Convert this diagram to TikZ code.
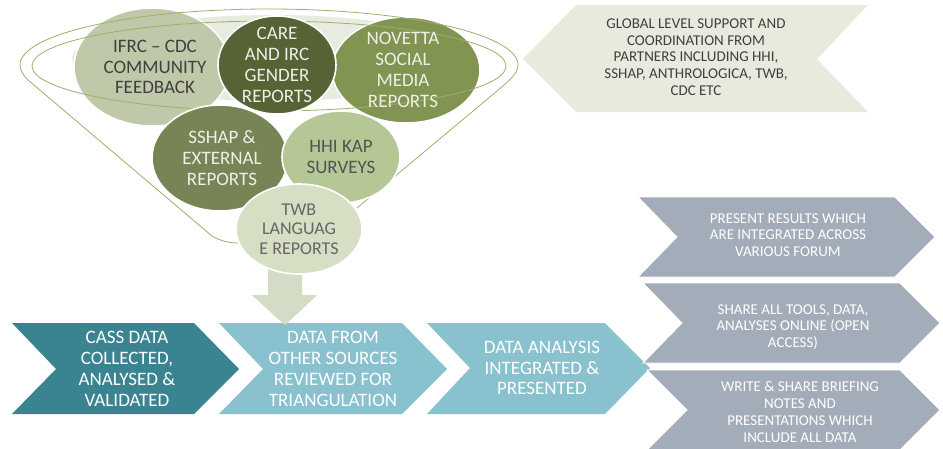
\documentclass[tikz,border=0pt]{standalone}
\usepackage{fontspec}
\setmainfont{Carlito}
\definecolor{lineg}{HTML}{9CB06A}
\definecolor{bandc}{HTML}{E8EBDF}
\definecolor{ifrcc}{HTML}{BFC8A9}
\definecolor{carec}{HTML}{566335}
\definecolor{novc}{HTML}{829451}
\definecolor{sshapc}{HTML}{778556}
\definecolor{hhic}{HTML}{B4C795}
\definecolor{twbc}{HTML}{D6DFC4}
\definecolor{arrowc}{HTML}{D5DCC5}
\definecolor{tealc}{HTML}{3A8390}
\definecolor{ltbluec}{HTML}{89C1CF}
\definecolor{grayc}{HTML}{A3ACB9}
\definecolor{beigec}{HTML}{EAE9DD}
\definecolor{darktxt}{HTML}{404040}
\definecolor{lighttxt}{HTML}{EEF0E8}
\begin{document}
\begin{tikzpicture}[x=1pt,y=-1pt,
  funnelline/.style={draw=lineg, line width=0.8pt},
  blob/.style={draw=white, line width=1.6pt},
  chev/.style={draw=white, line width=0.8pt},
  bigtxt/.style={align=center, font=\fontsize{19}{20.8}\selectfont, inner sep=0pt},
  midtxt/.style={align=center, font=\fontsize{18}{19.5}\selectfont, inner sep=0pt},
  smalltxt/.style={align=center, font=\fontsize{15}{16.8}\selectfont, inner sep=0pt}]
\useasboundingbox (0,0) rectangle (943,448);
\clip (0,0) rectangle (943,448);
\fill[white] (0,0) rectangle (943,448);

% funnel rim fill (light, mostly behind the circles)
\fill[bandc] (272,58) ellipse[x radius=200, y radius=43];

% first circles (lines show over them)
\fill[ifrcc, blob] (152,67) ellipse[x radius=78, y radius=59];
\fill[novc, blob] (406,70) ellipse[x radius=74, y radius=53];

% funnel outline and inner line on top
\draw[funnelline] (269,66) ellipse[x radius=237, y radius=45];
\draw[funnelline] (357,208) -- (503,86) .. controls (512,78) and (518,72) .. (518,65)
  arc[start angle=0, end angle=-180, x radius=249, y radius=56]
  .. controls (20,70) and (23,75) .. (28,80) -- (212,236) .. controls (220,241) and (230,243) .. (238,243);

\fill[carec, blob] (277,65) ellipse[x radius=59, y radius=49];
\fill[sshapc, blob] (220,158) ellipse[x radius=68, y radius=53];
\fill[hhic, blob] (341,157) ellipse[x radius=59, y radius=46];

% down arrow
\fill[arrowc] (268,265) -- (302,265) -- (302,295) -- (317,295) -- (285,325) -- (252,295) -- (268,295) -- cycle;

\fill[twbc, blob] (299,229) ellipse[x radius=63, y radius=45];

\node[bigtxt, text=darktxt] (ifrc) at (155,67) {IFRC -- CDC\\COMMUNITY\\FEEDBACK};
\node[bigtxt, text=lighttxt] (care) at (277,65) {CARE\\AND IRC\\GENDER\\REPORTS};
\node[bigtxt, text=lighttxt] (nov) at (403,70) {NOVETTA\\SOCIAL\\MEDIA\\REPORTS};
\node[bigtxt, text=lighttxt] (sshap) at (222,158) {SSHAP \&\\EXTERNAL\\REPORTS};
\node[bigtxt, text=darktxt!90] (hhi) at (341,157) {HHI KAP\\SURVEYS};
\node[midtxt, text=darktxt!80] (twb) at (299,229) {TWB\\LANGUAG\\E REPORTS};

% top right chevron (pointing left)
\fill[beigec] (523,59) -- (576,5) -- (868,5) -- (817,59) -- (868,112) -- (576,112) -- cycle;
\node[smalltxt, text=darktxt] (glob) at (696,57) {GLOBAL LEVEL SUPPORT AND\\COORDINATION FROM\\PARTNERS INCLUDING HHI,\\SSHAP, ANTHROLOGICA, TWB,\\CDC ETC};

% bottom chevrons
\fill[tealc] (12,323) -- (194,323) -- (239,369) -- (194,414) -- (12,414) -- (56,369) -- cycle;
\fill[ltbluec] (219,323) -- (402,323) -- (447,369) -- (402,414) -- (219,414) -- (263,369) -- cycle;
\fill[ltbluec] (427,323) -- (605,323) -- (650,368) -- (605,414) -- (427,414) -- (470,368) -- cycle;

% arrow tip over chevron
\fill[arrowc] (252,295) -- (317,295) -- (285,325) -- cycle;

% right chevrons
\filldraw[grayc, chev] (638,197) -- (895,197) -- (935,237) -- (895,277) -- (638,277) -- (677,237) -- cycle;
\filldraw[grayc, chev] (643,283) -- (900,283) -- (940,323) -- (900,363) -- (643,363) -- (682,323) -- cycle;
\filldraw[grayc, chev] (647,370) -- (900,370) -- (940,410) -- (900,450) -- (647,450) -- (687,410) -- cycle;

\node[bigtxt, text=white] (cass) at (127,369) {CASS DATA\\COLLECTED,\\ANALYSED \&\\VALIDATED};
\node[bigtxt, text=white] (other) at (333,369) {DATA FROM\\OTHER SOURCES\\REVIEWED FOR\\TRIANGULATION};
\node[bigtxt, text=white] (anal) at (542,368) {DATA ANALYSIS\\INTEGRATED \&\\PRESENTED};

\node[smalltxt, text=white] (pres) at (788,235) {PRESENT RESULTS WHICH\\ARE INTEGRATED ACROSS\\VARIOUS FORUM};
\node[smalltxt, text=white] (share) at (793,327) {SHARE ALL TOOLS, DATA,\\ANALYSES ONLINE (OPEN\\ACCESS)};
\node[smalltxt, text=white] (write) at (800,412) {WRITE \& SHARE BRIEFING\\NOTES AND\\PRESENTATIONS WHICH\\INCLUDE ALL DATA};
\end{tikzpicture}
\end{document}
